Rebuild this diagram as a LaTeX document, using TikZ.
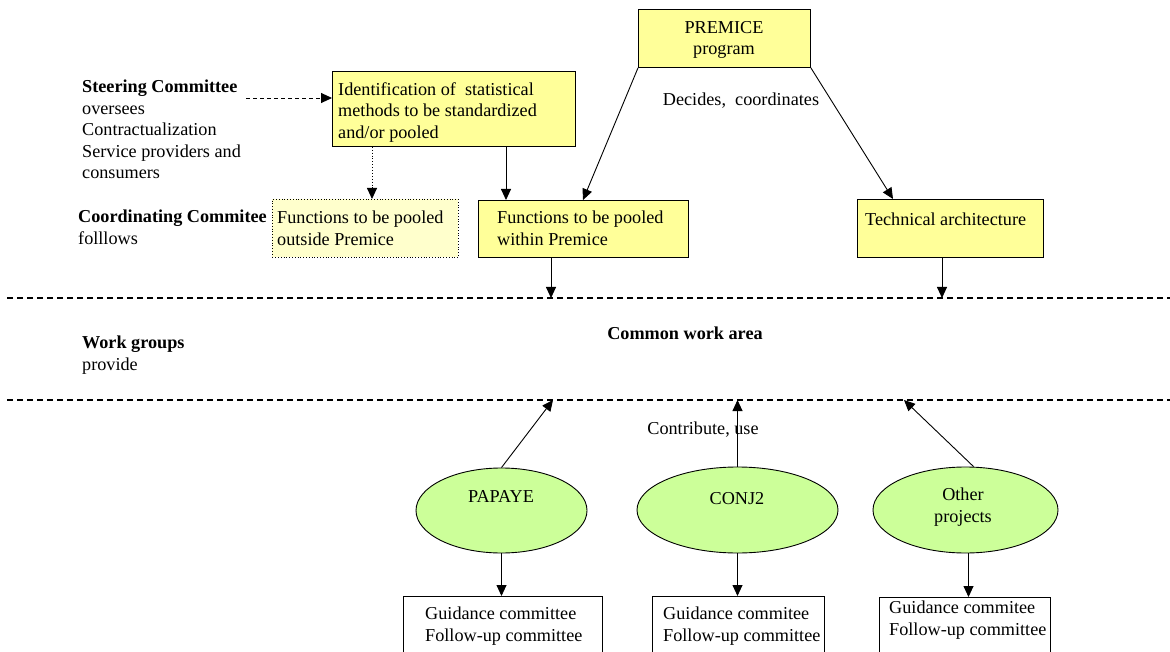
\documentclass[tikz,border=0pt]{standalone}
\usepackage{fontspec}
\setmainfont{Liberation Serif}
\usetikzlibrary{arrows.meta,shapes.geometric,calc}
\definecolor{paleyellow}{HTML}{FFFF99}
\definecolor{lightyellow}{HTML}{FFFFCC}
\definecolor{palegreen}{HTML}{CCFF99}
\tikzset{
  basefont/.style={font=\fontsize{18.2}{21.5}\selectfont},
  txt/.style={basefont, inner sep=0pt, anchor=north west, align=left},
  ctxt/.style={basefont, inner sep=0pt, align=center},
  ybox/.style={draw, fill=paleyellow, line width=0.9pt, anchor=north west, inner sep=0pt},
  obox/.style={draw, dotted, fill=lightyellow, line width=0.8pt, anchor=north west, inner sep=0pt},
  wbox/.style={draw, fill=white, line width=0.9pt, anchor=north west, inner sep=0pt},
  proj/.style={draw, ellipse, fill=palegreen, line width=0.9pt, inner sep=0pt},
  arr/.style={-{Triangle[length=11pt,width=10pt]}, line width=0.9pt},
  sepline/.style={line width=1.4pt, dash pattern=on 6pt off 4pt},
}
\begin{document}
\begin{tikzpicture}[x=1pt,y=-1pt]
\useasboundingbox (0,0) rectangle (1170,652);
\clip (0,0) rectangle (1170,652);

% boxes
\node[ybox, minimum width=172pt, minimum height=58pt] (premice) at (638,9) {};
\node[ybox, minimum width=243pt, minimum height=75pt] (ident) at (332,71) {};
\node[obox, minimum width=186pt, minimum height=58pt] (outb) at (272,199) {};
\node[ybox, minimum width=210pt, minimum height=57pt] (within) at (478,200) {};
\node[ybox, minimum width=186pt, minimum height=58pt] (tech) at (857,199) {};
\node[wbox, minimum width=199pt, minimum height=80pt] (gb1) at (403,596) {};
\node[wbox, minimum width=172pt, minimum height=80pt] (gb2) at (652,596) {};
\node[wbox, minimum width=171pt, minimum height=80pt] (gb3) at (879,597) {};

% projects
\node[proj, minimum width=171pt, minimum height=85pt] (pap) at (501.5,510.5) {};
\node[proj, minimum width=201pt, minimum height=86pt] (conj) at (737.5,510) {};
\node[proj, minimum width=185pt, minimum height=86pt] (oth) at (965.5,510) {};

% box texts
\node[ctxt] (premicet) at (724,40) {PREMICE\\program};
\node[txt] (identt) at (338,82) {Identification of \ statistical\\methods to be standardized\\and/or pooled};
\node[txt] (outbt) at (277,211) {Functions to be pooled\\outside Premice};
\node[txt] (withint) at (497,211) {Functions to be pooled\\within Premice};
\node[txt] (techt) at (865,213) {Technical architecture};
\node[ctxt] (papt) at (501,496) {PAPAYE};
\node[ctxt] (conjt) at (737,499) {CONJ2};
\node[ctxt] (otht) at (963,507) {Other\\projects};
\node[txt] (gt1) at (425,607) {Guidance committee\\Follow-up committee};
\node[txt] (gt2) at (663,607) {Guidance commitee\\Follow-up committee};
\node[txt] (gt3) at (889,601) {Guidance commitee\\Follow-up committee};

% side labels
\node[txt] (steer) at (82,80) {\textbf{Steering Committee}\\oversees\\Contractualization\\Service providers and\\consumers};
\node[txt] (coord) at (78,210) {\textbf{Coordinating Commitee}\\folllows};
\node[txt] (work) at (82,336) {\textbf{Work groups}\\provide};
\node[ctxt] (common) at (685,333) {\textbf{Common work area}};
\node[ctxt] (decides) at (741,101) {Decides, \ coordinates};
\node[ctxt] (contrib) at (703,430) {Contribute, use};

% separators of the common work area
\coordinate (s1a) at (7,298);
\coordinate (s1b) at (1170,298);
\coordinate (s2a) at (7,400);
\coordinate (s2b) at (1170,400);
\draw[sepline] (s1a) -- (s1b);
\draw[sepline] (s2a) -- (s2b);

% connectors
\coordinate (sa) at (246,98);
\draw[arr, dash pattern=on 4pt off 3pt] (sa) -- (sa -| ident.west);
\draw[arr, dotted] ($(ident.south west)+(40,0)$) -- ($(outb.north west)+(100,0)$);
\draw[arr] ($(ident.south west)+(174,0)$) -- ($(within.north west)+(28,0)$);
\draw[arr] (premice.south west) -- ($(within.north west)+(105,0)$);
\draw[arr] (premice.south east) -- ($(tech.north west)+(36,0)$);
\coordinate (w1) at ($(within.south west)+(73,0)$);
\draw[arr] (w1) -- (w1 |- s1a);
\coordinate (t1) at ($(tech.south west)+(85,0)$);
\draw[arr] (t1) -- (t1 |- s1a);
\coordinate (p1) at (553,400);
\draw[arr] (pap.north) -- (p1);
\draw[arr] (conj.north) -- (conj.north |- s2a);
\coordinate (o1) at (904,400);
\draw[arr] ($(oth.north)+(8,0)$) -- (o1);
\draw[arr] (pap.south) -- (pap.south |- gb1.north);
\draw[arr] (conj.south) -- (conj.south |- gb2.north);
\coordinate (o2) at ($(oth.south)+(3,0)$);
\draw[arr] (o2) -- (o2 |- gb3.north);
\end{tikzpicture}
\end{document}
